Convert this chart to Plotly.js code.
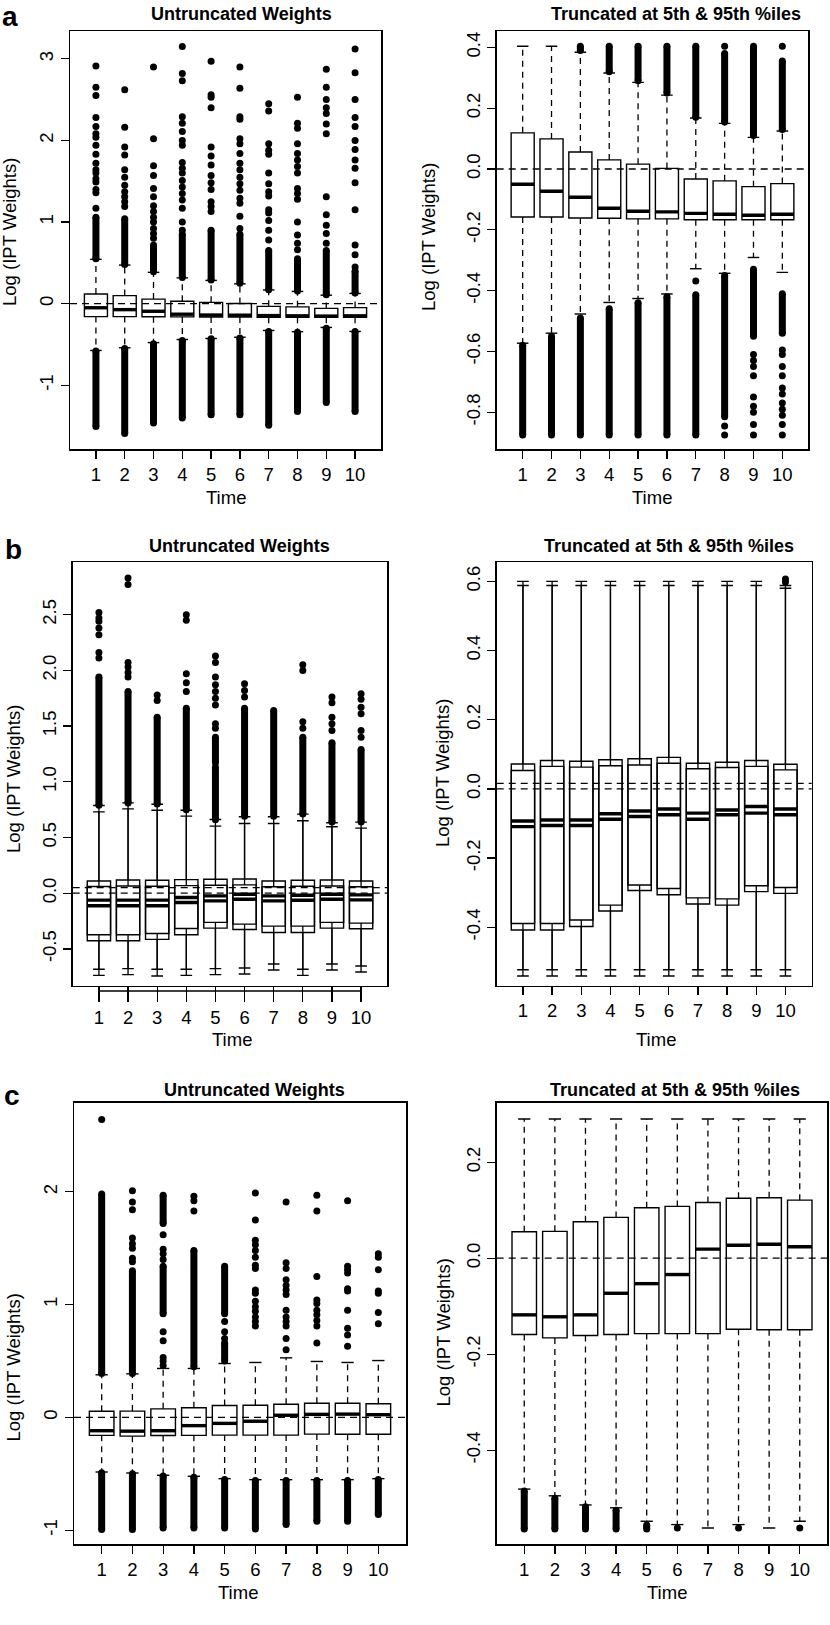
<!DOCTYPE html>
<html>
<head>
<meta charset="utf-8">
<script src="https://cdn.plot.ly/plotly-3.0.1.min.js"></script>
<style>body{margin:0;background:#fff}</style>
</head>
<body>
<div id="fig" style="width:830px;height:1625px"></div>
<script>
var times = [1, 2, 3, 4, 5, 6, 7, 8, 9, 10];
var timeLabels = ["1", "2", "3", "4", "5", "6", "7", "8", "9", "10"];

// ---- row a ----
var aQ3 = [0.119, 0.099, 0.056, 0.030, 0.016, 0.002, -0.033, -0.039, -0.058, -0.048];
var aMedian = [-0.050, -0.073, -0.093, -0.129, -0.139, -0.141, -0.146, -0.149, -0.152, -0.149];
var aQ1 = [-0.158, -0.158, -0.161, -0.162, -0.164, -0.164, -0.167, -0.167, -0.167, -0.167];
var aUpWhisk = [0.543, 0.473, 0.384, 0.316, 0.285, 0.243, 0.168, 0.150, 0.104, 0.125];
var aUpWhiskTrunc = [0.404, 0.404, 0.384, 0.316, 0.285, 0.243, 0.168, 0.150, 0.104, 0.125];
var aLowWhisk = [-0.573, -0.540, -0.477, -0.439, -0.426, -0.411, -0.328, -0.343, -0.291, -0.340];

var aUpDenseT = [1, 2, 3, 4, 5, 6, 7, 8, 9, 10];
var aUpDenseLo = [0.55, 0.48, 0.39, 0.32, 0.29, 0.25, 0.17, 0.155, 0.11, 0.13];
var aUpDenseHi = [1.06, 1.04, 0.72, 0.85, 0.90, 0.85, 0.65, 0.55, 0.65, 0.40];
var aLowDenseT = [1, 2, 3, 4, 5, 6, 7, 8, 9, 10];
var aLowDenseHi = [-0.58, -0.55, -0.49, -0.45, -0.43, -0.42, -0.34, -0.35, -0.30, -0.34];
var aLowDenseLo = [-1.505, -1.59, -1.46, -1.40, -1.36, -1.36, -1.49, -1.32, -1.21, -1.32];
var aUpPoints = [
  [1.17, 1.36, 1.40, 1.49, 1.53, 1.60, 1.64, 1.72, 1.83, 1.94, 2.04, 2.08, 2.17, 2.28, 2.55, 2.65, 2.91],
  [1.19, 1.25, 1.31, 1.37, 1.45, 1.55, 1.64, 1.82, 1.92, 2.16, 2.62],
  [0.80, 0.86, 0.92, 1.00, 1.06, 1.13, 1.20, 1.31, 1.41, 1.57, 1.69, 2.02, 2.90],
  [0.90, 1.00, 1.17, 1.27, 1.35, 1.43, 1.51, 1.60, 1.66, 1.73, 1.94, 2.00, 2.11, 2.21, 2.29, 2.73, 2.82, 3.15],
  [1.13, 1.19, 1.25, 1.40, 1.48, 1.57, 1.70, 1.81, 1.92, 2.40, 2.53, 2.56, 2.97],
  [0.92, 1.07, 1.23, 1.29, 1.39, 1.47, 1.55, 1.64, 1.72, 1.84, 1.96, 2.02, 2.26, 2.29, 2.64, 2.90],
  [0.78, 0.90, 1.02, 1.11, 1.15, 1.32, 1.37, 1.47, 1.60, 1.83, 1.88, 1.96, 2.36, 2.45],
  [0.66, 0.74, 0.84, 1.00, 1.28, 1.35, 1.41, 1.60, 1.68, 1.76, 1.84, 1.96, 2.15, 2.21, 2.53],
  [0.74, 0.86, 0.96, 1.09, 1.31, 2.08, 2.20, 2.33, 2.40, 2.50, 2.65, 2.87],
  [0.45, 0.60, 0.72, 1.15, 1.48, 1.66, 1.76, 1.89, 2.00, 2.17, 2.28, 2.50, 2.83, 3.12]
];

var aTrUpDenseT = [3, 4, 5, 6, 7, 8, 9, 10];
var aTrUpDenseLo = [0.39, 0.32, 0.29, 0.25, 0.17, 0.155, 0.11, 0.13];
var aTrUpDenseHi = [0.404, 0.404, 0.404, 0.404, 0.404, 0.38, 0.404, 0.355];
var aTrLowDenseT = [1, 2, 3, 4, 5, 6, 7, 8, 9, 10];
var aTrLowDenseHi = [-0.58, -0.55, -0.49, -0.46, -0.44, -0.42, -0.414, -0.35, -0.33, -0.41];
var aTrLowDenseLo = [-0.875, -0.875, -0.875, -0.875, -0.875, -0.875, -0.875, -0.815, -0.55, -0.54];
var aTrPoints = [
  [], [], [], [], [], [],
  [-0.368],
  [0.404, -0.845, -0.875],
  [-0.61, -0.63, -0.65, -0.68, -0.75, -0.78, -0.80, -0.84, -0.875],
  [0.404, -0.595, -0.61, -0.65, -0.68, -0.72, -0.74, -0.77, -0.79, -0.81, -0.84, -0.875]
];

// ---- row b (two overlaid boxplots per time) ----
var bL1Q3 = [0.110, 0.119, 0.116, 0.122, 0.125, 0.128, 0.110, 0.116, 0.119, 0.110];
var bL1Median = [-0.062, -0.062, -0.062, -0.039, -0.024, -0.009, -0.024, -0.018, -0.009, -0.015];
var bL1Q1 = [-0.373, -0.373, -0.361, -0.316, -0.262, -0.277, -0.295, -0.295, -0.262, -0.268];
var bL2Q3 = [0.060, 0.065, 0.062, 0.068, 0.072, 0.075, 0.058, 0.062, 0.065, 0.058];
var bL2Median = [-0.112, -0.112, -0.112, -0.083, -0.069, -0.054, -0.069, -0.063, -0.054, -0.060];
var bL2Q1 = [-0.426, -0.426, -0.414, -0.373, -0.313, -0.325, -0.352, -0.352, -0.313, -0.319];
var bL1UpWhisk = [0.787, 0.811, 0.799, 0.745, 0.662, 0.686, 0.686, 0.710, 0.632, 0.638];
var bL2UpWhisk = [0.730, 0.757, 0.745, 0.692, 0.602, 0.626, 0.626, 0.650, 0.596, 0.584];
var bL1LowWhisk = [-0.683, -0.677, -0.683, -0.683, -0.677, -0.671, -0.635, -0.683, -0.635, -0.653];
var bL2LowWhisk = [-0.737, -0.731, -0.743, -0.737, -0.731, -0.725, -0.689, -0.737, -0.689, -0.707];
var bRefLines = [0, 0.051];
var bDenseT = [1, 2, 3, 4, 5, 5, 6, 7, 8, 9, 10];
var bDenseLo = [0.79, 0.81, 0.80, 0.75, 0.66, 1.17, 0.69, 0.69, 0.71, 0.64, 0.64];
var bDenseHi = [1.94, 1.81, 1.58, 1.66, 1.13, 1.40, 1.66, 1.64, 1.40, 1.35, 1.29];
var bPoints = [
  [2.11, 2.16, 2.32, 2.38, 2.44, 2.47, 2.52],
  [1.94, 1.98, 2.03, 2.07, 2.77, 2.83],
  [1.73, 1.78],
  [1.81, 1.89, 1.97, 2.45, 2.50],
  [1.48, 1.52, 1.69, 1.75, 1.81, 1.87, 1.94, 2.07, 2.13],
  [1.76, 1.82, 1.88],
  [],
  [1.48, 1.54, 2.00, 2.05],
  [1.46, 1.52, 1.58, 1.71, 1.76],
  [1.40, 1.46, 1.61, 1.67, 1.74, 1.79]
];

var bR1Q3 = [0.072, 0.082, 0.080, 0.084, 0.087, 0.091, 0.074, 0.077, 0.082, 0.071];
var bR1Median = [-0.093, -0.090, -0.090, -0.072, -0.064, -0.058, -0.070, -0.061, -0.051, -0.058];
var bR1Q1 = [-0.389, -0.389, -0.379, -0.336, -0.278, -0.288, -0.315, -0.318, -0.280, -0.285];
var bR2Q3 = [0.053, 0.065, 0.063, 0.067, 0.069, 0.074, 0.058, 0.062, 0.065, 0.055];
var bR2Median = [-0.109, -0.106, -0.106, -0.088, -0.080, -0.075, -0.088, -0.075, -0.070, -0.075];
var bR2Q1 = [-0.408, -0.408, -0.398, -0.353, -0.294, -0.306, -0.333, -0.336, -0.297, -0.302];
var bR1UpWhisk = [0.600, 0.600, 0.600, 0.600, 0.600, 0.600, 0.600, 0.600, 0.600, 0.588];
var bR2UpWhisk = [0.588, 0.588, 0.588, 0.588, 0.588, 0.588, 0.588, 0.588, 0.588, 0.580];
var bR1LowWhisk = [-0.523, -0.523, -0.523, -0.523, -0.523, -0.523, -0.523, -0.523, -0.523, -0.523];
var bR2LowWhisk = [-0.541, -0.541, -0.541, -0.541, -0.541, -0.541, -0.541, -0.541, -0.541, -0.541];
var bRRefLines = [0, 0.016];
var bRPoints = [[], [], [], [], [], [], [], [], [], [0.607, 0.598]];

// ---- row c ----
var cQ3 = [0.055, 0.056, 0.076, 0.085, 0.105, 0.108, 0.116, 0.125, 0.126, 0.121];
var cMedian = [-0.118, -0.122, -0.118, -0.073, -0.053, -0.034, 0.019, 0.027, 0.029, 0.024];
var cQ1 = [-0.159, -0.166, -0.161, -0.159, -0.157, -0.157, -0.157, -0.148, -0.149, -0.149];
var cUpWhisk = [0.378, 0.386, 0.434, 0.434, 0.478, 0.487, 0.528, 0.496, 0.487, 0.504];
var cLowWhisk = [-0.484, -0.493, -0.513, -0.522, -0.543, -0.552, -0.552, -0.552, -0.552, -0.543];
var cUpDenseT = [1, 2, 3, 3, 4, 5, 5];
var cUpDenseLo = [0.39, 0.39, 0.92, 1.72, 0.45, 0.92, 0.50];
var cUpDenseHi = [1.98, 1.30, 1.34, 1.97, 1.48, 1.34, 0.66];
var cLowDenseT = [1, 2, 3, 4, 5, 6, 7, 8, 9, 10];
var cLowDenseHi = [-0.49, -0.50, -0.52, -0.53, -0.55, -0.56, -0.56, -0.56, -0.56, -0.55];
var cLowDenseLo = [-0.994, -0.994, -0.98, -0.98, -0.98, -0.99, -0.95, -0.92, -0.92, -0.86];
var cUpPoints = [
  [2.64],
  [1.38, 1.41, 1.50, 1.54, 1.59, 1.84, 1.91, 2.01],
  [0.46, 0.50, 0.53, 0.68, 0.76, 1.40, 1.45, 1.49, 1.62],
  [1.83, 1.92, 1.96],
  [0.70, 0.76, 0.85],
  [0.81, 0.85, 0.89, 0.94, 0.98, 1.03, 1.10, 1.13, 1.32, 1.35, 1.42, 1.48, 1.53, 1.57, 1.75, 1.99],
  [0.60, 0.70, 0.81, 0.85, 0.89, 0.95, 1.09, 1.13, 1.17, 1.22, 1.32, 1.37, 1.91],
  [0.66, 0.81, 0.86, 0.91, 0.95, 1.01, 1.04, 1.25, 1.83, 1.97],
  [0.63, 0.73, 0.79, 0.95, 1.12, 1.14, 1.28, 1.31, 1.34, 1.92],
  [0.83, 0.93, 1.10, 1.12, 1.31, 1.42, 1.45]
];
var cTrUpWhisk = [0.290, 0.290, 0.290, 0.290, 0.290, 0.290, 0.290, 0.290, 0.290, 0.290];
var cTrLowWhisk = [-0.481, -0.495, -0.514, -0.520, -0.548, -0.555, -0.562, -0.555, -0.562, -0.548];
var cTrDenseT = [1, 2, 3, 4, 5];
var cTrDenseHi = [-0.485, -0.500, -0.518, -0.525, -0.556];
var cTrDenseLo = [-0.564, -0.564, -0.564, -0.564, -0.564];
var cTrPoints = [[], [], [], [], [], [-0.562], [], [-0.562], [], [-0.562]];

// ---- axis ticks ----
var aLeftTickVals = [-1, 0, 1, 2, 3];
var aLeftTickText = ["-1", "0", "1", "2", "3"];
var aRightTickVals = [-0.8, -0.6, -0.4, -0.2, 0, 0.2, 0.4];
var aRightTickText = ["-0.8", "-0.6", "-0.4", "-0.2", "0.0", "0.2", "0.4"];
var bLeftTickVals = [-0.5, 0, 0.5, 1, 1.5, 2, 2.5];
var bLeftTickText = ["-0.5", "0.0", "0.5", "1.0", "1.5", "2.0", "2.5"];
var bRightTickVals = [-0.4, -0.2, 0, 0.2, 0.4, 0.6];
var bRightTickText = ["-0.4", "-0.2", "0.0", "0.2", "0.4", "0.6"];
var cLeftTickVals = [-1, 0, 1, 2];
var cLeftTickText = ["-1", "0", "1", "2"];
var cRightTickVals = [-0.4, -0.2, 0, 0.2];
var cRightTickText = ["-0.4", "-0.2", "0.0", "0.2"];

var titleLeft = "Untruncated Weights";
var titleRight = "Truncated at 5th & 95th %iles";

// ---- drawing helpers ----
var FONT = "Liberation Sans, Arial, Helvetica, sans-serif";
var W = 830, H = 1625;
var HALF_BOX = 0.4, HALF_CAP = 0.2;
var WDASH = "6px,5px";
var DOT = 7;

function axn(k, c) { return k === 1 ? c : c + k; }

function seg(t, y0, y1, xs, ys) { xs.push(t, t, null); ys.push(y0, y1, null); }

function lines(k, xs, ys, w, dash) {
  return { type: "scatter", mode: "lines", xaxis: axn(k, "x"), yaxis: axn(k, "y"),
    x: xs, y: ys, line: { color: "#000", width: w, dash: dash || "solid" },
    hoverinfo: "skip" };
}

function boxTrace(k, q1, med, q3) {
  return { type: "box", xaxis: axn(k, "x"), yaxis: axn(k, "y"), x: times,
    q1: q1, median: med, q3: q3, lowerfence: q1, upperfence: q3,
    width: 2 * HALF_BOX, whiskerwidth: 0, boxpoints: false,
    fillcolor: "rgba(0,0,0,0)", line: { color: "#000", width: 1.4 }, hoverinfo: "skip" };
}

function medians(k, med) {
  var xs = [], ys = [];
  times.forEach(function (t, i) { xs.push(t - HALF_BOX, t + HALF_BOX, null); ys.push(med[i], med[i], null); });
  return lines(k, xs, ys, 3.4);
}

function whiskers(k, from, to, dash) {
  var xs = [], ys = [];
  times.forEach(function (t, i) { seg(t, from[i], to[i], xs, ys); });
  return lines(k, xs, ys, 1.3, dash);
}

function caps(k, vals) {
  var xs = [], ys = [];
  times.forEach(function (t, i) { xs.push(t - HALF_CAP, t + HALF_CAP, null); ys.push(vals[i], vals[i], null); });
  return lines(k, xs, ys, 1.4);
}

function dense(k, T, lo, hi) {
  var xs = [], ys = [];
  T.forEach(function (t, i) { seg(t, lo[i], hi[i], xs, ys); });
  return { type: "scatter", mode: "lines+markers", xaxis: axn(k, "x"), yaxis: axn(k, "y"),
    x: xs, y: ys, line: { color: "#000", width: DOT }, marker: { color: "#000", size: DOT },
    hoverinfo: "skip" };
}

function points(k, byTime) {
  var xs = [], ys = [];
  byTime.forEach(function (vals, i) { vals.forEach(function (v) { xs.push(times[i]); ys.push(v); }); });
  return { type: "scatter", mode: "markers", xaxis: axn(k, "x"), yaxis: axn(k, "y"),
    x: xs, y: ys, marker: { color: "#000", size: DOT }, hoverinfo: "skip" };
}

function boxplot(k, q1, med, q3, up, low, dash) {
  return [whiskers(k, q3, up, dash), whiskers(k, q1, low, dash), caps(k, up), caps(k, low),
    boxTrace(k, q1, med, q3), medians(k, med)];
}

var data = [];
// a left
data.push(dense(1, aUpDenseT, aUpDenseLo, aUpDenseHi), dense(1, aLowDenseT, aLowDenseLo, aLowDenseHi), points(1, aUpPoints));
data = data.concat(boxplot(1, aQ1, aMedian, aQ3, aUpWhisk, aLowWhisk, WDASH));
// a right
data.push(dense(2, aTrUpDenseT, aTrUpDenseLo, aTrUpDenseHi), dense(2, aTrLowDenseT, aTrLowDenseLo, aTrLowDenseHi), points(2, aTrPoints));
data = data.concat(boxplot(2, aQ1, aMedian, aQ3, aUpWhiskTrunc, aLowWhisk, WDASH));
// b left
data.push(dense(3, bDenseT, bDenseLo, bDenseHi), points(3, bPoints));
data = data.concat(boxplot(3, bL1Q1, bL1Median, bL1Q3, bL1UpWhisk, bL1LowWhisk));
data = data.concat(boxplot(3, bL2Q1, bL2Median, bL2Q3, bL2UpWhisk, bL2LowWhisk));
// b right
data.push(points(4, bRPoints));
data = data.concat(boxplot(4, bR1Q1, bR1Median, bR1Q3, bR1UpWhisk, bR1LowWhisk));
data = data.concat(boxplot(4, bR2Q1, bR2Median, bR2Q3, bR2UpWhisk, bR2LowWhisk));
// c left
data.push(dense(5, cUpDenseT, cUpDenseLo, cUpDenseHi), dense(5, cLowDenseT, cLowDenseLo, cLowDenseHi), points(5, cUpPoints));
data = data.concat(boxplot(5, cQ1, cMedian, cQ3, cUpWhisk, cLowWhisk, WDASH));
// c right
data.push(dense(6, cTrDenseT, cTrDenseLo, cTrDenseHi), points(6, cTrPoints));
data = data.concat(boxplot(6, cQ1, cMedian, cQ3, cTrUpWhisk, cTrLowWhisk, WDASH));

// ---- layout ----
var panels = [
  { l: 70, r: 381, t: 31, b: 449, yr: [-1.78, 3.34], tv: aLeftTickVals, tt: aLeftTickText, refs: [0] },
  { l: 496.7, r: 808.3, t: 31, b: 449, yr: [-0.921, 0.454], tv: aRightTickVals, tt: aRightTickText, refs: [0] },
  { l: 72.7, r: 387.3, t: 562.3, b: 985.7, yr: [-0.83, 2.97], tv: bLeftTickVals, tt: bLeftTickText, refs: bRefLines, xlen: 15 },
  { l: 496.7, r: 811.7, t: 562.3, b: 985.7, yr: [-0.569, 0.655], tv: bRightTickVals, tt: bRightTickText, refs: bRRefLines },
  { l: 74, r: 406, t: 1102.7, b: 1544.3, yr: [-1.125, 2.79], tv: cLeftTickVals, tt: cLeftTickText, refs: [0] },
  { l: 496.7, r: 827.3, t: 1102.7, b: 1544.3, yr: [-0.596, 0.324], tv: cRightTickVals, tt: cRightTickText, refs: [0] }
];

var layout = {
  width: W, height: H, margin: { l: 0, r: 0, t: 0, b: 0 },
  paper_bgcolor: "#fff", plot_bgcolor: "#fff", showlegend: false,
  font: { family: FONT, size: 18, color: "#000" },
  shapes: [], annotations: []
};

var tickFont = { family: FONT, size: 18.5, color: "#000" };
panels.forEach(function (p, i) {
  var k = i + 1;
  layout[axn(k, "xaxis")] = {
    domain: [p.l / W, p.r / W], range: [0.1, 10.9], anchor: axn(k, "y"),
    tickmode: "array", tickvals: times, ticktext: timeLabels, ticks: "outside",
    ticklen: p.xlen || 8, tickwidth: 1.3, tickcolor: "#000", tickfont: tickFont,
    showline: true, mirror: true, linecolor: "#000", linewidth: 1.5,
    showgrid: false, zeroline: false, fixedrange: true
  };
  layout[axn(k, "yaxis")] = {
    domain: [1 - p.b / H, 1 - p.t / H], range: p.yr, anchor: axn(k, "x"),
    tickmode: "array", tickvals: p.tv, ticktext: p.tt, ticks: "outside", tickangle: -90,
    ticklen: 8, tickwidth: 1.3, tickcolor: "#000", tickfont: tickFont,
    showline: true, mirror: true, linecolor: "#000", linewidth: 1.5,
    showgrid: false, zeroline: false, fixedrange: true
  };
  p.refs.forEach(function (v) {
    layout.shapes.push({ type: "line", xref: axn(k, "x") + " domain", yref: axn(k, "y"),
      x0: 0, x1: 1, y0: v, y1: v, line: { color: "#000", width: 1.3, dash: "7px,5px" } });
  });
});

// separate x axis line under panel b-left (R draws it below the frame there)
layout.shapes.push({ type: "line", xref: "x3", yref: "y3 domain", x0: times[0], x1: times[times.length - 1],
  y0: -0.0125, y1: -0.0125, line: { color: "#000", width: 1.4 } });

function ann(text, px, py, size, bold, angle) {
  layout.annotations.push({ text: bold ? "<b>" + text + "</b>" : text, xref: "paper", yref: "paper",
    x: px / W, y: 1 - py / H, xanchor: "center", yanchor: "middle", showarrow: false,
    textangle: angle || 0, font: { family: FONT, size: size, color: "#000" } });
}

var titlePos = [[241, 14], [676, 14], [239.5, 546], [668.7, 546], [254, 1090], [674.7, 1090]];
var yTitlePos = [[10, 232], [428, 237], [13, 779], [443, 773], [13, 1367.5], [443, 1332.5]];
var xTitlePos = [[225.7, 497], [651.7, 497], [231.7, 1039.5], [655.7, 1039.5], [238.3, 1592], [666.7, 1592]];
titlePos.forEach(function (p, i) { ann(i % 2 === 0 ? titleLeft : titleRight, p[0], p[1], 18, true); });
yTitlePos.forEach(function (p) { ann("Log (IPT Weights)", p[0], p[1], 18.5, false, -90); });
xTitlePos.forEach(function (p) { ann("Time", p[0], p[1], 18.5, false); });
ann("a", 10, 17, 28, true);
ann("b", 13, 549, 28, true);
ann("c", 12, 1095, 28, true);

Plotly.newPlot("fig", data, layout, { staticPlot: true });
</script>
</body>
</html>
